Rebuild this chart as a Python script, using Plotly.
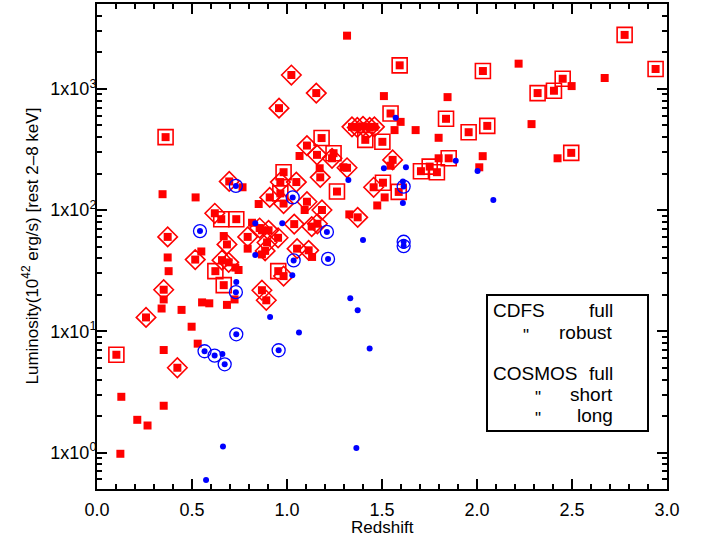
import plotly.graph_objects as go

# ---------------- data ----------------
# COSMOS full (plain filled squares)
cosmos_full_z = [1.316, 1.51, 1.598, 1.566, 1.677, 1.845, 1.798, 2.219, 2.672, 2.498, 2.287, 2.424,
                 2.03, 2.012, 1.798, 1.545, 1.514, 1.475, 1.172, 1.297, 1.066, 0.766, 0.851, 0.345,
                 0.519, 1.093, 1.328, 0.667, 0.816, 0.868, 0.793, 0.868, 0.549, 0.372, 0.377, 0.728,
                 0.745, 0.724, 0.351, 0.34, 0.445, 0.553, 0.591, 0.684, 0.498, 0.53, 0.351, 0.128,
                 0.351, 0.212, 0.266, 0.123, 1.132]
cosmos_full_L = [2740, 870, 533, 456, 456, 853, 394, 1610, 1226, 1052, 511, 267,
                 278, 225, 267, 232, 127, 109, 221, 225, 279, 154, 112, 135,
                 127, 100, 92, 61, 78.5, 68, 48, 43, 45.5, 40.6, 31.3, 33.5,
                 32, 18.3, 18.3, 15.4, 15.0, 17.3, 17.0, 16.5, 10.9, 7.9, 7.0, 2.88,
                 2.43, 1.86, 1.67, 0.976, 41]

# COSMOS short
cosmos_short_z = [1.593, 1.545, 1.412, 1.502, 1.837, 1.956, 2.054, 2.031, 2.319, 2.405, 2.451, 2.777,
                  2.94, 2.496, 1.851, 1.705, 1.751, 1.789, 1.588, 1.505, 1.182, 1.263, 1.245, 0.982,
                  0.965, 0.361, 0.654, 0.733, 0.623, 0.667, 0.954, 0.102]
cosmos_short_L = [1560, 625, 379, 365, 565, 438, 494, 1400, 921, 963, 1209, 2780,
                  1455, 296, 267, 209, 228, 205, 141, 168, 392, 142, 294, 205,
                  137, 399, 84, 84, 31.3, 24, 31.3, 6.4]

# COSMOS long
cosmos_long_z = [1.023, 1.154, 0.958, 1.342, 1.37, 1.40, 1.435, 1.46, 1.556, 1.316, 1.456, 1.105,
                 1.158, 1.237, 1.175, 1.105, 1.184, 0.965, 1.049, 0.696, 0.909, 0.982, 1.372, 0.62,
                 0.793, 0.856, 0.903, 0.953, 1.038, 1.13, 1.16, 0.372, 0.684, 0.895, 0.885, 1.053,
                 1.114, 0.517, 0.658, 0.693, 0.982, 0.868, 0.891, 0.351, 0.258, 0.423]
cosmos_long_L = [1298, 921, 692, 485, 480, 490, 480, 485, 259, 223, 154, 340,
                 285, 267, 186, 117, 100, 170, 170, 172, 127, 113, 87, 94,
                 60, 71, 68, 59, 76.5, 73, 77, 60, 52, 54, 46, 48,
                 46.5, 39, 38.6, 37, 28.5, 21.8, 18, 22, 13, 5.0]

# CDFS full (dots)
cdfs_full_z = [1.572, 1.51, 1.626, 1.888, 2.003, 2.086, 1.61, 1.61, 1.323, 0.833, 0.975, 1.40,
               0.833, 1.028, 0.733, 0.911, 1.063, 1.333, 1.372, 1.435, 0.663, 0.574, 1.365, 0.66]
cdfs_full_L = [576, 221, 225, 255, 210, 121, 114, 172, 177, 77.6, 77.6, 56.5,
               42.6, 29, 25.5, 13.1, 9.75, 18.7, 14.9, 7.2, 1.12, 0.594, 1.09, 6.5]

# CDFS robust
cdfs_robust_z = [1.614, 1.614, 1.614, 0.731, 1.03, 0.542, 1.21, 1.216, 1.035, 0.731, 0.733,
                 0.566, 0.619, 0.672, 0.956]
cdfs_robust_L = [156, 54.7, 50.4, 158, 127, 67, 66, 39.5, 38.4, 21, 9.44,
                 6.84, 6.3, 5.34, 6.97]

# legend rows
legend_left = ["CDFS", '"', "", "COSMOS", '"', '"']
legend_right = ["full", "robust", "", "full", "short", "long"]

RED = "rgb(255,0,0)"
BLUE = "rgb(0,0,255)"
FONT = "Liberation Sans, Arial, sans-serif"

fig = go.Figure()

sq = dict(symbol="square", size=8, color=RED, line=dict(width=0))
fig.add_trace(go.Scatter(x=cosmos_full_z, y=cosmos_full_L, mode="markers", marker=sq, showlegend=False))
fig.add_trace(go.Scatter(x=cosmos_short_z, y=cosmos_short_L, mode="markers", marker=sq, showlegend=False))
fig.add_trace(go.Scatter(x=cosmos_long_z, y=cosmos_long_L, mode="markers", marker=sq, showlegend=False))
fig.add_trace(go.Scatter(x=cosmos_short_z, y=cosmos_short_L, mode="markers",
                         marker=dict(symbol="square-open", size=15, color=RED, line=dict(width=1.6, color=RED)),
                         showlegend=False))
fig.add_trace(go.Scatter(x=cosmos_long_z, y=cosmos_long_L, mode="markers",
                         marker=dict(symbol="diamond-open", size=15, color=RED, line=dict(width=1.6, color=RED)),
                         showlegend=False))
dot = dict(symbol="circle", size=6, color=BLUE, line=dict(width=0))
fig.add_trace(go.Scatter(x=cdfs_full_z, y=cdfs_full_L, mode="markers", marker=dot, showlegend=False))
fig.add_trace(go.Scatter(x=cdfs_robust_z, y=cdfs_robust_L, mode="markers", marker=dot, showlegend=False))
fig.add_trace(go.Scatter(x=cdfs_robust_z, y=cdfs_robust_L, mode="markers",
                         marker=dict(symbol="circle-open", size=13, color=BLUE, line=dict(width=1.3, color=BLUE)),
                         showlegend=False))

# ---------------- legend box (layout) ----------------
px0, px1, py0, py1 = 97.0, 667.0, 4.0, 489.0
def fx(p):
    return (p - px0) / (px1 - px0)
def fy(p):
    return (py1 - p) / (py1 - py0)

fig.add_shape(type="rect", xref="paper", yref="paper", x0=fx(487), x1=fx(648), y0=fy(431), y1=fy(295),
              line=dict(color="black", width=2), fillcolor="white", layer="above")

row_y = [310, 332, 352, 373, 394, 415]
ditto_x = [None, 526, None, None, 538, 538]
for i, (lt, rt) in enumerate(zip(legend_left, legend_right)):
    if lt in ("CDFS", "COSMOS"):
        fig.add_annotation(xref="paper", yref="paper", x=fx(491), y=fy(row_y[i]), text=lt, showarrow=False,
                           xanchor="left", yanchor="middle", height=21,
                           font=dict(size=19, color="black", family=FONT))
    elif lt:
        fig.add_annotation(xref="paper", yref="paper", x=fx(ditto_x[i]), y=fy(row_y[i] + 3), text=lt,
                           showarrow=False, xanchor="center", yanchor="middle", height=12,
                           font=dict(size=17, color="black", family=FONT))
    if rt:
        fig.add_annotation(xref="paper", yref="paper", x=fx(615), y=fy(row_y[i]), text=rt, showarrow=False,
                           xanchor="right", yanchor="middle", height=21,
                           font=dict(size=19, color="black", family=FONT))

lx = fx(627)
fig.add_trace(go.Scatter(x=[lx, lx], y=[fy(310), fy(332)], mode="markers", marker=dot,
                         xaxis="x2", yaxis="y2", showlegend=False, hoverinfo="skip"))
fig.add_trace(go.Scatter(x=[lx], y=[fy(332)], mode="markers",
                         marker=dict(symbol="circle-open", size=13, color=BLUE, line=dict(width=1.3, color=BLUE)),
                         xaxis="x2", yaxis="y2", showlegend=False, hoverinfo="skip"))
fig.add_trace(go.Scatter(x=[lx, lx, lx], y=[fy(373), fy(394), fy(415)], mode="markers", marker=sq,
                         xaxis="x2", yaxis="y2", showlegend=False, hoverinfo="skip"))
fig.add_trace(go.Scatter(x=[lx], y=[fy(394)], mode="markers",
                         marker=dict(symbol="square-open", size=15, color=RED, line=dict(width=1.6, color=RED)),
                         xaxis="x2", yaxis="y2", showlegend=False, hoverinfo="skip"))
fig.add_trace(go.Scatter(x=[lx], y=[fy(415)], mode="markers",
                         marker=dict(symbol="diamond-open", size=15, color=RED, line=dict(width=1.6, color=RED)),
                         xaxis="x2", yaxis="y2", showlegend=False, hoverinfo="skip"))

# axis titles as annotations (fixed positions)
fig.add_annotation(xref="paper", yref="paper", x=0.5, y=fy(527), text="Redshift", showarrow=False,
                   xanchor="center", yanchor="middle", font=dict(size=17, color="black", family=FONT))
fig.add_annotation(xref="paper", yref="paper", x=fx(30), y=0.5,
                   text="Luminosity(10<sup>42</sup> erg/s) [rest 2\u20138 keV]", showarrow=False,
                   textangle=-90, xanchor="center", yanchor="middle",
                   font=dict(size=17, color="black", family=FONT))

axis_common = dict(showline=True, linecolor="black", linewidth=2, mirror="allticks",
                   ticks="inside", tickcolor="black", tickwidth=1.5, ticklen=10,
                   showgrid=False, zeroline=False, automargin=False,
                   tickfont=dict(size=18, color="black", family=FONT))

fig.update_layout(
    width=703, height=543,
    margin=dict(l=97, r=36, t=4, b=54, autoexpand=False),
    paper_bgcolor="white", plot_bgcolor="white",
    font=dict(family=FONT, color="black"),
    xaxis=dict(range=[0, 3], dtick=0.5, tick0=0, tickformat=".1f",
               minor=dict(ticks="inside", dtick=0.1, ticklen=5, tickwidth=1.5, tickcolor="black"),
               ticklabelstandoff=3, **axis_common),
    yaxis=dict(type="log", range=[-0.30103, 3.69897],
               tickvals=[1, 10, 100, 1000],
               ticktext=["1x10<sup>0</sup>", "1x10<sup>1</sup>", "1x10<sup>2</sup>", "1x10<sup>3</sup>"],
               minor=dict(ticks="inside", ticklen=5, tickwidth=1.5, tickcolor="black",
                          tickvals=[0.5, 0.6, 0.7, 0.8, 0.9, 2, 3, 4, 5, 6, 7, 8, 9,
                                    20, 30, 40, 50, 60, 70, 80, 90, 200, 300, 400, 500, 600, 700, 800, 900,
                                    2000, 3000, 4000, 5000]),
               ticklabelstandoff=-5, **axis_common),
    xaxis2=dict(overlaying="x", range=[0, 1], visible=False),
    yaxis2=dict(overlaying="y", range=[0, 1], visible=False),
)

fig.write_html("out.html", config={"displayModeBar": False},
               post_script="document.body.style.margin='0';document.body.style.padding='0';")
